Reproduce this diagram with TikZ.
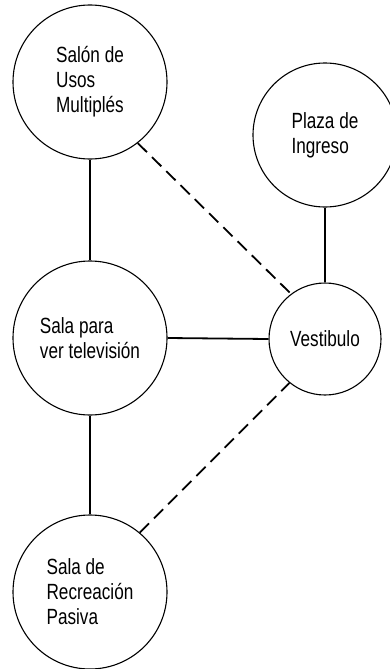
\documentclass[tikz,border=0pt]{standalone}
\usepackage{fontspec}
\setmainfont{Liberation Sans}[FakeStretch=0.78]
\usetikzlibrary{positioning}

\begin{document}
\begin{tikzpicture}[
  x=1pt, y=-1pt,
  room/.style={
    circle, draw=black, line width=1.1pt, fill=white,
    minimum size=154pt, inner sep=0, align=left,
    font=\fontsize{22}{25}\selectfont
  },
  link/.style={line width=1.8pt, black},
  weak/.style={link, dash pattern=on 13pt off 7pt},
]
\useasboundingbox (0,0) rectangle (389,669);
% Rooms
\node[room] (salon) at (90,82)  {Salón de\\Usos\\Multiplés};
\node[room,minimum size=144pt] (plaza) at (325,135) {Plaza de\\Ingreso};
\node[room] (tv)    at (90,338) {Sala para\\ver televisión};
\node[room,minimum size=112pt] (vest) at (325,339) {Vestibulo};
\node[room] (recre) at (90,592) {Sala de\\Recreación\\Pasiva};
% Links
\draw[link] (salon.south) -- (tv.north);
\draw[link] (tv.south) -- (recre.north);
\draw[link] (tv.east) -- (vest.west);
\draw[link] (plaza.south) -- (vest.north);
% Dashed links
\draw[weak] (salon.-52) -- (vest.127);
\draw[weak] (recre.50) -- (vest.231);
\end{tikzpicture}
\end{document}
